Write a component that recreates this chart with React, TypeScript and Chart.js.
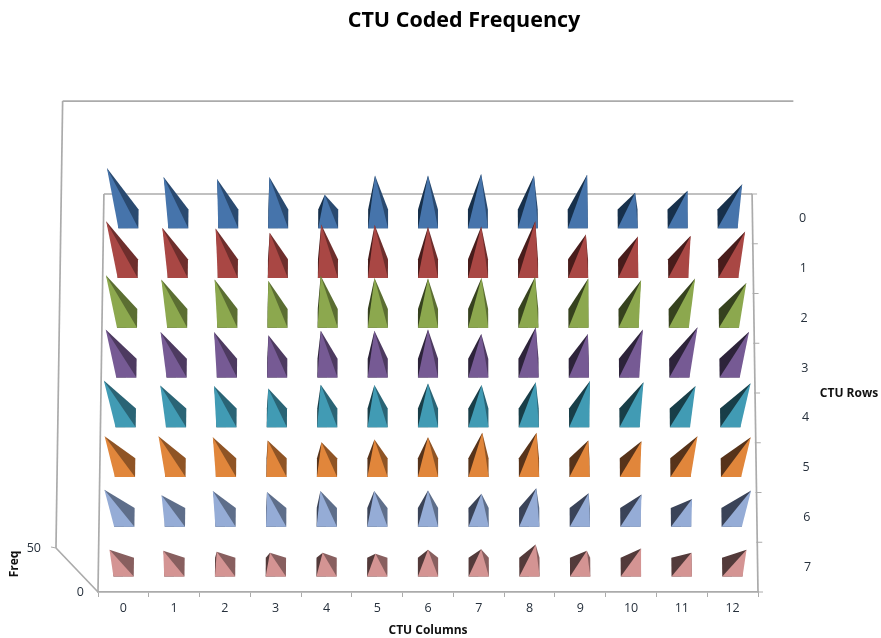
import React, { useEffect, useRef } from "react";
import { Chart, registerables } from "chart.js";

Chart.register(...registerables);

const chartTitle = "CTU Coded Frequency";
const columnLabels = ["0", "1", "2", "3", "4", "5", "6", "7", "8", "9", "10", "11", "12"];
const rowLabels = ["0", "1", "2", "3", "4", "5", "6", "7"];
const freqTicks = [0, 50];

const row0 = [28.3, 23.3, 22.2, 23.3, 13.4, 24.1, 24.1, 25, 24.1, 24.5, 14.6, 15.6, 19.3];
const row1 = [28.3, 24.4, 24, 21.4, 26.4, 26, 24.8, 25.2, 28.3, 20.4, 19.2, 19.6, 22.2];
const row2 = [27.7, 25, 25, 24.3, 27.5, 26, 25.6, 26, 26.6, 25.6, 24.5, 25.6, 22.8];
const row3 = [27, 25.2, 25.2, 23, 26.1, 26.1, 27, 23.8, 28.5, 23.8, 27, 28.5, 25.4];
const row4 = [28.5, 24.7, 24.4, 22.4, 25.4, 25.2, 26.2, 25.2, 27.3, 28.2, 27.3, 24.4, 26.5];
const row5 = [26.5, 26.5, 25.7, 22.9, 21.4, 23.7, 25.7, 29.4, 29.4, 22.9, 22.3, 26.5, 25.7];
const row6 = [25.9, 20.9, 24.7, 23.8, 24.7, 24.7, 25.3, 22.2, 27.5, 22.8, 21.5, 17.2, 25.3];
const row7 = [18.4, 17.3, 16.3, 15.2, 15.2, 14.1, 18.4, 19.1, 24, 17.3, 19.8, 15.2, 18.4];
const rows = [row0, row1, row2, row3, row4, row5, row6, row7];

const frontColors = ["#4674AB", "#A94744", "#8CA84E", "#765A94", "#419BB4", "#E1863B", "#95ACD6", "#D49493"];
const rightColors = ["#2A4A70", "#6E2E2C", "#5B6E32", "#4D3A60", "#2A6475", "#8F5425", "#5E6E8A", "#885F5F"];
const leftColors = ["#17304B", "#481C1B", "#36421E", "#2D233A", "#183E48", "#57331A", "#3A4358", "#533A3A"];

const AXIS_COLOR = "#ABABAB";
const TEXT_COLOR = "#26303C";
const FONT = "'Open Sans', 'Noto Sans', sans-serif";

const VANISH_X = 428;
type Pt = [number, number];

function makeProjection(chart: any) {
  const area = chart.chartArea;
  const zs = chart.scales.z;
  const unit = zs.getPixelForValue(0) - zs.getPixelForValue(50);
  return (x: number, y: number, z = 0): Pt => {
    const f = 1 - (area.bottom - y) * 4.5e-5;
    const fx = VANISH_X + (x - VANISH_X) * f;
    const t = z / 50;
    const dx = ((fx - VANISH_X) / 330) * 42 * (unit / 45);
    const dy = 44 + (area.bottom - y) * 0.123;
    return [fx + dx * t, y - dy * t];
  };
}

function poly(ctx: CanvasRenderingContext2D, pts: Pt[], fill: string) {
  ctx.beginPath();
  pts.forEach((p, i) => (i ? ctx.lineTo(p[0], p[1]) : ctx.moveTo(p[0], p[1])));
  ctx.closePath();
  ctx.fillStyle = fill;
  ctx.fill();
}

function seg(ctx: CanvasRenderingContext2D, a: Pt, b: Pt) {
  ctx.beginPath();
  ctx.moveTo(a[0], a[1]);
  ctx.lineTo(b[0], b[1]);
  ctx.stroke();
}

const view3d = {
  id: "view3d",
  beforeDraw(chart: any) {
    const area = chart.chartArea;
    const project = makeProjection(chart);
    chart.titleBlock.left = 47;
    chart.scales.y.getLabelItems().forEach((item: any) => {
      const y = item.options.translation[1];
      const edge = project(area.right - 5, y);
      item.options.translation[0] = edge[0] + 55;
      item.options.textAlign = "center";
    });
    chart.scales.z.getLabelItems().forEach((item: any, i: number) => {
      item.options.translation[0] = i === 0 ? 84 : 41;
      item.options.textAlign = "right";
      item.options.translation[1] = i === 0 ? 592 : 548;
    });
  },
  beforeDatasetsDraw(chart: any) {
    const { ctx, chartArea: area } = chart;
    const project = makeProjection(chart);
    const { y: ys } = chart.scales;
    ctx.save();
    ctx.strokeStyle = AXIS_COLOR;
    ctx.lineWidth = 1.7;
    const fl = project(area.left, area.bottom);
    const bl = project(area.left, area.top);
    const br = project(area.right, area.top);
    const frontRight: Pt = [area.right, area.bottom];
    seg(ctx, fl, bl);
    seg(ctx, bl, br);
    seg(ctx, br, frontRight);
    const flTop = project(area.left, area.bottom, 50);
    const blTop = project(area.left, area.top, 50);
    const brTop = project(area.right, area.top, 50);
    seg(ctx, fl, flTop);
    seg(ctx, flTop, blTop);
    seg(ctx, blTop, brTop);
    ctx.lineWidth = 1;
    seg(ctx, flTop, [flTop[0] - 5, flTop[1] - 1]);
    const step = ys.height / rowLabels.length;
    for (let i = 0; i <= rowLabels.length; i++) {
      const p = project(area.right, area.top + step * i);
      seg(ctx, [p[0] - 1, p[1]], [p[0] + 5, p[1]]);
    }
    ctx.restore();
  },
  afterDatasetsDraw(chart: any) {
    const { ctx, scales } = chart;
    const project = makeProjection(chart);
    const hw = (scales.x.width / columnLabels.length) * 0.2;
    const hd = (scales.y.height / rowLabels.length) * 0.19;
    ctx.save();
    chart.data.datasets.forEach((ds: any, r: number) => {
      chart.getDatasetMeta(r).data.forEach((pt: any, i: number) => {
        const { x, y } = pt;
        const FL = project(x - hw, y + hd);
        const FR = project(x + hw, y + hd);
        const BL = project(x - hw, y - hd);
        const BR = project(x + hw, y - hd);
        const A = project(x, y, ds.data[i].z);
        const mid: Pt = [(FL[0] + FR[0]) / 2, FL[1]];
        // The side faces run under the front face so no seam shows between them.
        poly(ctx, [FL, BL, A, mid], leftColors[r]);
        poly(ctx, [FR, BR, A, mid], rightColors[r]);
        poly(ctx, [FL, FR, A], frontColors[r]);
      });
    });
    ctx.restore();
    ctx.save();
    ctx.fillStyle = "#111";
    ctx.font = `bold 12px ${FONT}`;
    ctx.textAlign = "center";
    ctx.textBaseline = "middle";
    ctx.fillText("CTU Rows", 849, 394);
    ctx.translate(15, 564);
    ctx.rotate(-Math.PI / 2);
    ctx.fillText("Freq", 0, 0);
    ctx.restore();
  },
};

export default function App() {
  const ref = useRef<HTMLCanvasElement>(null);
  useEffect(() => {
    const chart = new Chart(ref.current as HTMLCanvasElement, {
      type: "scatter",
      plugins: [view3d],
      data: {
        xLabels: columnLabels,
        yLabels: rowLabels,
        datasets: rows.map((values, r) => ({
          label: rowLabels[r],
          pointRadius: 0,
          data: values.map((z, c) => ({ x: columnLabels[c], y: rowLabels[r], z })),
        })),
      } as any,
      options: {
        animation: false,
        responsive: false,
        layout: { autoPadding: false },
        plugins: {
          legend: { display: false },
          tooltip: { enabled: false },
          title: {
            display: true,
            text: chartTitle,
            color: "#000",
            font: { family: FONT, size: 21.5, weight: "bold", lineHeight: 1.2 },
            padding: { top: 8, bottom: 160.2 },
          },
        },
        scales: {
          x: {
            type: "category",
            position: "bottom",
            offset: true,
            grid: {
              offset: true,
              drawOnChartArea: false,
              tickLength: 5,
              color: AXIS_COLOR,
              tickColor: AXIS_COLOR,
            },
            border: { color: AXIS_COLOR, width: 1.7 },
            ticks: { color: TEXT_COLOR, font: { family: FONT, size: 12.5 }, padding: 4, maxRotation: 0 },
            title: {
              display: true,
              text: "CTU Columns",
              color: "#111",
              font: { family: FONT, size: 12, weight: "bold" },
              padding: 0,
            },
            afterFit: (s: any) => {
              s.height = 46;
            },
          },
          y: {
            type: "category",
            position: "right",
            offset: true,
            grid: { display: false },
            border: { display: false },
            ticks: { color: TEXT_COLOR, font: { family: FONT, size: 12.5 }, autoSkip: false },
            afterFit: (s: any) => {
              s.width = 123;
            },
          },
          z: {
            type: "linear",
            position: "left",
            min: 0,
            max: 442,
            grid: { display: false },
            border: { display: false },
            ticks: { color: TEXT_COLOR, font: { family: FONT, size: 12.5 }, autoSkip: false },
            afterBuildTicks: (s: any) => {
              s.ticks = freqTicks.map((value) => ({ value }));
            },
            afterFit: (s: any) => {
              s.width = 98;
            },
          },
        },
      } as any,
    });
    return () => chart.destroy();
  }, []);
  return (
    <div style={{ position: "absolute", left: 0, top: 0, width: 881, height: 638, background: "#fff", overflow: "hidden" }}>
      <canvas ref={ref} width={881} height={638} style={{ display: "block" }} />
    </div>
  );
}
